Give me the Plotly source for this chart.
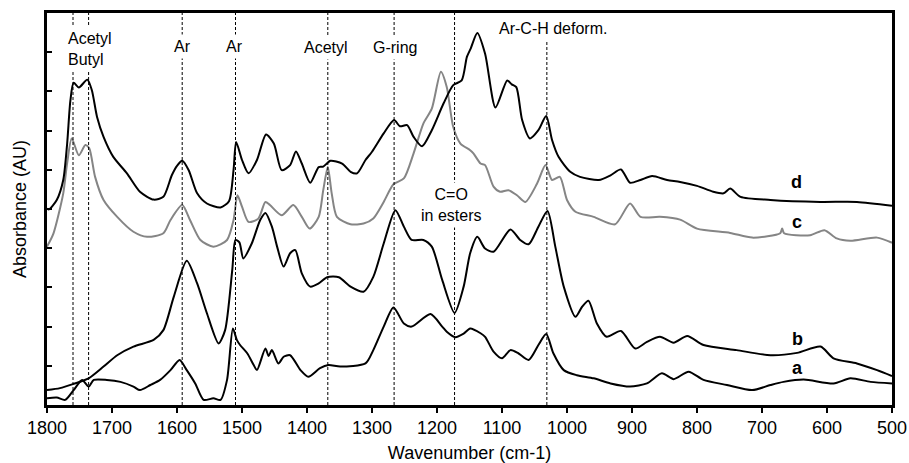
import plotly.graph_objects as go

# ---------------- data ----------------
wn_d = [1800, 1797, 1785, 1775, 1769, 1764, 1759, 1751, 1738, 1731, 1723, 1713, 1698, 1677, 1657,
        1636, 1621, 1608, 1600, 1592, 1582, 1569, 1554, 1533, 1520, 1513, 1509, 1500, 1490, 1477,
        1463, 1451, 1439, 1426, 1417, 1408, 1395, 1382, 1375, 1364, 1346, 1333, 1323, 1310, 1300,
        1282, 1266, 1257, 1246, 1236, 1223, 1208, 1190, 1175, 1162, 1154, 1148, 1138, 1126, 1110,
        1092, 1085, 1078, 1069, 1057, 1044, 1032, 1023, 1013, 995, 980, 951, 933, 917, 903,
        887, 869, 846, 826, 800, 775, 759, 749, 733, 687, 610, 554, 500]
abs_d = [5.01, 4.99, 5.23, 5.74, 6.67, 7.77, 8.22, 8.10, 8.30, 8.03, 7.35, 6.84, 6.33, 5.91, 5.44,
         5.24, 5.31, 5.86, 6.10, 6.23, 5.99, 5.40, 5.14, 5.04, 5.20, 6.00, 6.71, 6.25, 5.91, 6.25,
         6.90, 6.67, 5.99, 6.12, 6.47, 6.16, 5.67, 6.07, 6.08, 6.23, 6.16, 5.95, 5.91, 6.25, 6.46,
         6.93, 7.27, 7.11, 7.14, 6.84, 6.60, 7.01, 7.69, 8.16, 8.28, 8.88, 9.10, 9.49, 8.96, 7.59,
         8.28, 8.18, 8.11, 7.27, 6.80, 7.01, 7.37, 6.76, 6.33, 5.95, 5.82, 5.74, 5.86, 6.01, 5.67,
         5.74, 5.84, 5.74, 5.69, 5.59, 5.44, 5.40, 5.52, 5.31, 5.23, 5.18, 5.18, 5.08]

wn_c = [1800, 1790, 1775, 1769, 1762, 1751, 1741, 1735, 1726, 1713, 1692, 1667, 1646, 1621, 1610,
        1592, 1580, 1564, 1544, 1523, 1513, 1507, 1500, 1490, 1475, 1464, 1457, 1439, 1421, 1408,
        1396, 1382, 1375, 1368, 1362, 1354, 1333, 1313, 1298, 1282, 1267, 1251, 1236, 1221, 1208,
        1194, 1185, 1175, 1164, 1149, 1144, 1133, 1126, 1113, 1103, 1090, 1077, 1064, 1046, 1033,
        1023, 1011, 1000, 987, 959, 926, 903, 887, 857, 826, 800, 749, 715, 672, 669,
        666, 626, 604, 585, 564, 523, 500]
abs_c = [4.04, 4.38, 5.40, 6.17, 6.80, 6.37, 6.63, 6.55, 5.82, 5.23, 4.80, 4.42, 4.29, 4.38, 4.72,
         5.10, 4.72, 4.21, 4.04, 4.21, 4.72, 5.35, 5.06, 4.67, 4.75, 5.18, 5.10, 4.84, 5.10, 4.80,
         4.50, 4.80, 5.48, 6.07, 5.40, 4.80, 4.61, 4.63, 4.76, 5.18, 5.63, 5.78, 6.42, 7.18, 7.56,
         8.50, 8.11, 7.09, 6.67, 6.50, 6.42, 6.16, 6.12, 5.57, 5.44, 5.48, 5.35, 5.18, 5.65, 6.12,
         5.74, 5.82, 5.23, 4.93, 4.80, 4.61, 5.14, 4.80, 4.80, 4.73, 4.50, 4.39, 4.27, 4.38, 4.50,
         4.38, 4.33, 4.46, 4.25, 4.19, 4.27, 4.14]

wn_b = [1800, 1780, 1759, 1736, 1713, 1692, 1667, 1636, 1621, 1605, 1585, 1569, 1554, 1536, 1526,
        1515, 1510, 1504, 1498, 1485, 1472, 1464, 1454, 1446, 1436, 1426, 1418, 1408, 1395, 1382,
        1369, 1351, 1333, 1313, 1298, 1282, 1264, 1251, 1239, 1221, 1208, 1192, 1173, 1159, 1149,
        1138, 1126, 1113, 1087, 1072, 1059, 1044, 1030, 1018, 1005, 987, 977, 967, 954, 939,
        917, 895, 877, 857, 836, 815, 790, 739, 687, 646, 610, 590, 554, 523, 500]
abs_b = [0.38, 0.43, 0.54, 0.68, 0.98, 1.27, 1.49, 1.66, 1.91, 2.76, 3.68, 3.10, 2.34, 1.57, 1.91,
         3.44, 4.21, 4.15, 3.74, 4.12, 4.72, 4.90, 4.55, 4.04, 3.53, 3.87, 3.95, 3.36, 3.02, 3.10,
         3.26, 3.26, 3.02, 2.89, 3.27, 4.12, 4.97, 4.55, 4.21, 4.21, 4.04, 3.19, 2.35, 3.02, 3.87,
         4.29, 3.99, 3.91, 4.48, 4.21, 4.10, 4.55, 4.95, 4.04, 3.02, 2.25, 2.50, 2.66, 2.08, 1.74,
         1.89, 1.44, 1.61, 1.74, 1.59, 1.76, 1.53, 1.40, 1.27, 1.33, 1.49, 1.19, 1.06, 0.89, 0.74]

wn_a = [1800, 1785, 1772, 1759, 1746, 1736, 1728, 1708, 1687, 1667, 1657, 1641, 1626, 1610, 1596,
        1585, 1572, 1559, 1544, 1533, 1523, 1514, 1508, 1503, 1492, 1482, 1477, 1464, 1459, 1454,
        1444, 1436, 1426, 1410, 1398, 1380, 1367, 1349, 1310, 1298, 1282, 1267, 1251, 1239, 1210,
        1192, 1185, 1172, 1159, 1149, 1133, 1126, 1113, 1100, 1087, 1075, 1059, 1044, 1032, 1021,
        1005, 985, 959, 933, 903, 877, 854, 836, 813, 790, 754, 715, 687, 667, 636,
        590, 564, 533, 500]
abs_a = [0.17, 0.19, 0.13, 0.38, 0.64, 0.47, 0.64, 0.64, 0.59, 0.47, 0.38, 0.51, 0.64, 0.89, 1.15,
         0.89, 0.55, 0.13, 0.17, 0.13, 0.64, 1.95, 1.66, 1.53, 1.32, 1.02, 0.89, 1.44, 1.25, 1.40,
         1.06, 1.23, 1.27, 0.89, 0.72, 0.94, 1.02, 0.98, 1.06, 1.40, 2.00, 2.49, 2.08, 2.00, 2.32,
         2.00, 1.87, 1.73, 1.82, 1.95, 1.83, 1.74, 1.36, 1.19, 1.40, 1.32, 1.15, 1.53, 1.81, 1.32,
         0.89, 0.76, 0.68, 0.55, 0.47, 0.55, 0.81, 0.66, 0.85, 0.64, 0.51, 0.38, 0.51, 0.59, 0.65,
         0.55, 0.68, 0.59, 0.55]

marker_wn = [1760, 1736, 1592, 1510, 1368, 1266, 1173, 1031]
marker_top = [10, 10, 10, 10, 10, 10, 10, 9.3]

band_labels = ["Acetyl<br>Butyl", "Ar", "Ar", "Acetyl", "G-ring", "C=O<br>in esters", "Ar-C-H deform."]
band_x = [1774.5, 1592, 1512, 1371, 1265, 1178, 1021.5]
band_y = [9.07, 9.15, 9.15, 9.12, 9.13, 5.09, 9.61]

curve_names = ["a", "b", "c", "d"]
curve_label_x = [645, 645, 646, 647]
curve_label_y = [0.94, 1.68, 4.67, 5.68]

FONT = "Liberation Sans, Arial, sans-serif"

fig = go.Figure()
series = [(wn_a, abs_a, "black"), (wn_b, abs_b, "black"), (wn_c, abs_c, "#858585"), (wn_d, abs_d, "black")]
for (xs, ys, col), nm in zip(series, curve_names):
    fig.add_trace(go.Scatter(x=xs, y=ys, mode="lines", name=nm,
                             line=dict(color=col, width=2, shape="spline", smoothing=0.7)))

for xv, top in zip(marker_wn, marker_top):
    fig.add_shape(type="line", x0=xv, x1=xv, y0=0, y1=top, xref="x", yref="y",
                  line=dict(color="black", width=1, dash="3px,2px"), layer="above")

for i, (t, xv, yv) in enumerate(zip(band_labels, band_x, band_y)):
    fig.add_annotation(x=xv, y=yv, text=t, showarrow=False, xref="x", yref="y",
                       xanchor="left" if i == 0 else "center",
                       align="left" if i == 0 else "center",
                       font=dict(family=FONT, size=16, color="black"),
                       bgcolor="white", borderpad=3)

for t, xv, yv in zip(curve_names, curve_label_x, curve_label_y):
    fig.add_annotation(x=xv, y=yv, text="<b>%s</b>" % t, showarrow=False,
                       font=dict(family=FONT, size=18, color="black"))

fig.update_layout(
    width=909, height=463,
    margin=dict(l=47, r=17, t=13, b=58),
    paper_bgcolor="white", plot_bgcolor="white",
    showlegend=False,
    font=dict(family=FONT, size=18, color="black"),
    xaxis=dict(range=[1800, 500], tick0=500, dtick=100, ticks="outside", ticklen=5, tickwidth=2,
               tickcolor="black", showline=True, linecolor="black", linewidth=2.5, mirror=True,
               showgrid=False, zeroline=False, automargin=False,
               tickfont=dict(family=FONT, size=18),
               title=dict(text="Wavenumber (cm-1)", font=dict(family=FONT, size=18), standoff=11)),
    yaxis=dict(range=[0, 10], tick0=0, dtick=1, ticks="inside", ticklen=5, tickwidth=2,
               tickcolor="black", showline=True, linecolor="black", linewidth=2.5, mirror=True,
               showgrid=False, zeroline=False, showticklabels=False, automargin=False,
               title=dict(text="Absorbance (AU)", font=dict(family=FONT, size=18), standoff=13)),
)

fig.write_html("out.html")
